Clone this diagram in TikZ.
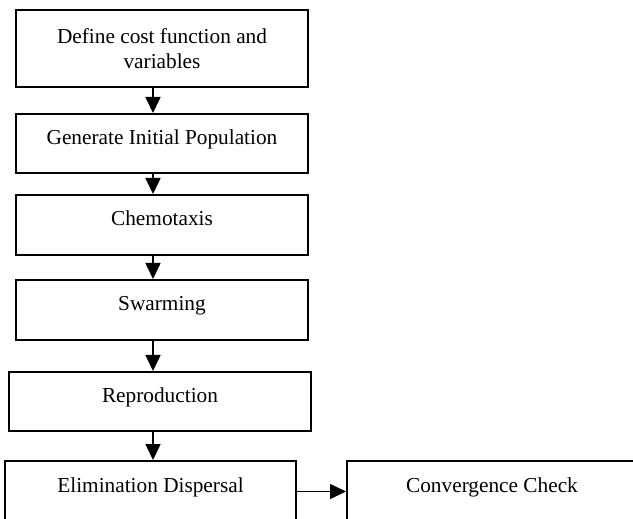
\documentclass[tikz,border=0pt]{standalone}
\usepackage{fontspec}
\setmainfont{Liberation Serif}
\usetikzlibrary{arrows.meta}

\begin{document}
\begin{tikzpicture}[
    x=0.5pt, y=-0.5pt,
    every node/.style={
        draw,
        rectangle,
        line width=1pt,
        inner sep=0pt,
        align=center,
        font=\fontsize{10.65}{13}\selectfont
    },
    stepbox/.style={text height=0.75em, text depth=0.65em},
    flow/.style={line width=0.8pt, -{Triangle[length=8pt, width=7.5pt]}}
]
\useasboundingbox (0,0) rectangle (633,519);

% Boxes of the flow
\node (define) [minimum width=146pt, minimum height=38.5pt] at (162,48.5) {Define cost function and\\[-0.5pt]variables};
\node[stepbox] (init) [minimum width=146pt, minimum height=29.5pt] at (162,143.5) {Generate Initial Population};
\node[stepbox] (chemo) [minimum width=146pt, minimum height=30pt] at (162,225) {Chemotaxis};
\node[stepbox] (swarm) [minimum width=146pt, minimum height=30pt] at (162,310) {Swarming};
\node[stepbox] (repro) [minimum width=151pt, minimum height=29.5pt] at (160,401.5) {Reproduction};
\node[stepbox] (elim) [minimum width=145.5pt, minimum height=30.5pt] at (150.5,491.5) {Elimination Dispersal};
\node[stepbox] (conv) [minimum width=145pt, minimum height=30.5pt] at (492,491.5) {Convergence Check};

% Arrows down the left column
\coordinate (spine) at (153,0);
\draw[flow] (define.south -| spine) -- (init.north -| spine);
\draw[flow] (init.south -| spine) -- (chemo.north -| spine);
\draw[flow] (chemo.south -| spine) -- (swarm.north -| spine);
\draw[flow] (swarm.south -| spine) -- (repro.north -| spine);
\draw[flow] (repro.south -| spine) -- (elim.north -| spine);
\draw[flow] (elim) -- (conv);
\end{tikzpicture}
\end{document}
